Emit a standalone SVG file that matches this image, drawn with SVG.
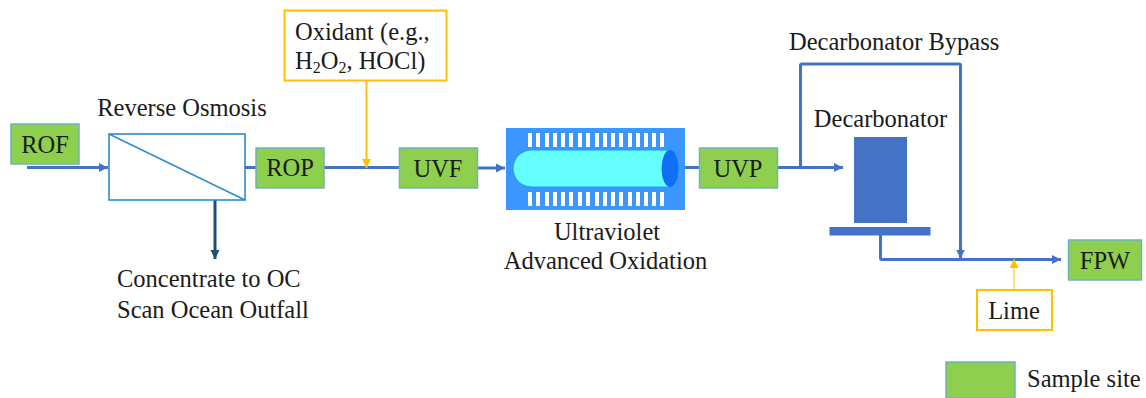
<svg xmlns="http://www.w3.org/2000/svg" width="1146" height="398" viewBox="0 0 1146 398">
<style>
text{font-family:"Liberation Serif","Times New Roman",serif;font-size:24.500px;fill:#1a1a1a}
.site{fill:#8ed04e;stroke:#6fb3b8;stroke-width:1.5}
.flow{fill:none;stroke:#4472c4;stroke-width:3}
.ox{fill:none;stroke:#ffc000;stroke-width:2}
.note{fill:#fff;stroke:#ffc000;stroke-width:2}
.m{text-anchor:middle}
</style>
<defs>
<marker id="ab" markerUnits="userSpaceOnUse" markerWidth="10" markerHeight="10" refX="9" refY="5" orient="auto"><path d="M0 0.500L9 5L0 9.500Z" fill="#4472c4"/></marker>
<marker id="ay" markerUnits="userSpaceOnUse" markerWidth="10" markerHeight="9" refX="9" refY="4.500" orient="auto"><path d="M0 0L9 4.500L0 9Z" fill="#ffc000"/></marker>
<marker id="ad" markerUnits="userSpaceOnUse" markerWidth="10" markerHeight="10" refX="9" refY="5" orient="auto"><path d="M0 0.500L9 5L0 9.500Z" fill="#1f4e79"/></marker>
</defs>
<g id="connectors">
<path class="flow" d="M27 167.500H108" marker-end="url(#ab)"/>
<path class="flow" d="M245 167.500H256"/>
<path class="flow" d="M324 167.500H400"/>
<path class="flow" d="M477 168H505" marker-end="url(#ab)"/>
<path class="flow" d="M685 167.500H700"/>
<path class="flow" d="M777 167.500H843" marker-end="url(#ab)"/>
<path class="flow" d="M800.500 167V65.500Q800.500 64 802 64H959Q960.500 64 960.500 65.500V258.500" marker-end="url(#ab)"/>
<path class="flow" d="M880.500 235V258Q880.500 259.500 882 259.500H1061" marker-end="url(#ab)"/>
<path d="M215 200V259" fill="none" stroke="#1f4e79" stroke-width="3" marker-end="url(#ad)"/>
<path class="ox" d="M366.500 80V168" marker-end="url(#ay)"/>
<path d="M1014 290V259" fill="none" stroke="#ffc000" stroke-width="1" marker-end="url(#ay)"/>
</g>
<g id="ROF"><rect class="site" x="11" y="124" width="68" height="40"/><text class="m" x="45" y="153">ROF</text></g>
<g id="reverse-osmosis">
<rect x="109" y="134" width="136" height="66" fill="#fff" stroke="#1f82cc" stroke-width="1.500"/>
<path d="M109 134L245 200" stroke="#2e8bd0" stroke-width="1.500"/>
<text class="m" x="182" y="116">Reverse Osmosis</text>
</g>
<g id="ROP"><rect class="site" x="256" y="148" width="68" height="40"/><text class="m" x="290" y="176">ROP</text></g>
<g id="oxidant"><rect class="note" x="284.500" y="10.500" width="162" height="70"/><text x="295" y="40">Oxidant (e.g.,</text><text x="295" y="69">H<tspan font-size="16" dy="4">2</tspan><tspan dy="-4">O</tspan><tspan font-size="16" dy="4">2</tspan><tspan dy="-4">, HOCl)</tspan></text></g>
<g id="UVF"><rect class="site" x="399.500" y="148" width="78" height="40"/><text class="m" x="438" y="177">UVF</text></g>
<g id="uv-reactor">
<rect x="506" y="128" width="179" height="82" fill="#3b97ff"/>
<path fill="#fff" d="M528 133h4v14h-4zM536 133h4v14h-4zM545 133h4v14h-4zM553 133h4v14h-4zM561 133h4v14h-4zM569 133h4v14h-4zM578 133h4v14h-4zM586 133h4v14h-4zM595 133h4v14h-4zM603 133h4v14h-4zM611 133h4v14h-4zM619 133h4v14h-4zM628 133h4v14h-4zM636 133h4v14h-4zM644 133h4v14h-4zM652 133h4v14h-4zM660 133h4v14h-4zM528 192h4v14h-4zM536 192h4v14h-4zM545 192h4v14h-4zM553 192h4v14h-4zM561 192h4v14h-4zM569 192h4v14h-4zM578 192h4v14h-4zM586 192h4v14h-4zM595 192h4v14h-4zM603 192h4v14h-4zM611 192h4v14h-4zM619 192h4v14h-4zM628 192h4v14h-4zM636 192h4v14h-4zM644 192h4v14h-4zM652 192h4v14h-4zM660 192h4v14h-4z"/>
<path d="M670 150H531.500A18.500 18.500 0 0 0 531.500 187H670Z" fill="#66ffff" stroke="#1a9cf5" stroke-width="1"/>
<ellipse cx="670" cy="168.500" rx="8.500" ry="18.500" fill="#0f6ff5"/>
<text class="m" x="607" y="240">Ultraviolet</text>
<text class="m" x="605.500" y="269">Advanced Oxidation</text>
</g>
<g id="UVP"><rect class="site" x="699.500" y="148" width="78" height="40"/><text class="m" x="738" y="177">UVP</text></g>
<text x="789" y="50">Decarbonator Bypass</text>
<g id="decarbonator">
<rect x="854" y="137" width="53" height="86" fill="#4472c4"/>
<rect x="829.500" y="227" width="101" height="8.500" fill="#4472c4"/>
<text class="m" x="880.500" y="127">Decarbonator</text>
</g>
<g id="FPW"><rect class="site" x="1068.500" y="240" width="73" height="40"/><text class="m" x="1105" y="269">FPW</text></g>
<g id="lime"><rect class="note" x="977" y="290" width="75" height="40"/><text class="m" x="1014" y="319">Lime</text></g>
<g id="concentrate"><text x="117" y="287">Concentrate to OC</text><text x="117" y="318">Scan Ocean Outfall</text></g>
<g id="legend"><rect class="site" x="946" y="362" width="69" height="36"/><text x="1027" y="387">Sample site</text></g>
</svg>
